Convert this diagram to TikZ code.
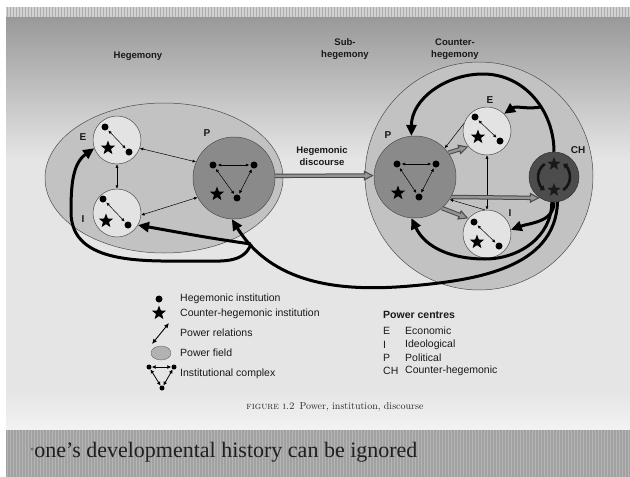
\documentclass[tikz,border=0pt]{standalone}
\usepackage{fontspec}
\newfontfamily\sansf{Liberation Sans}
\newfontfamily\timesf{Liberation Serif}
\usetikzlibrary{shapes.geometric, arrows.meta}
\tikzset{
  lbl/.style={font=\sansf\bfseries\fontsize{9.5}{11.5}\selectfont, align=center, text=black!90, inner sep=0pt},
  clbl/.style={font=\sansf\bfseries\fontsize{10}{12}\selectfont, text=black!90, inner sep=0pt},
  field/.style={draw=black!70, line width=0.5pt, inner sep=0pt},
  inst/.style={circle, draw=black!70, fill=black!11, minimum size=48pt, inner sep=0pt, line width=0.5pt},
  pol/.style={circle, draw=black!70, fill=black!46, minimum size=82pt, inner sep=0pt, line width=0.5pt},
  chc/.style={circle, draw=black!80, fill=black!70, minimum size=50pt, inner sep=0pt, line width=0.5pt},
  dot/.style={circle, fill=black, minimum size=7pt, inner sep=0pt},
  hstar/.style={star, star points=5, star point ratio=2.4, fill=black, minimum size=15pt, inner sep=0pt},
  rel/.style={{Latex[length=3.5pt,width=3pt]}-{Latex[length=3.5pt,width=3pt]}, line width=0.5pt, black},
  onerel/.style={-{Latex[length=3.5pt,width=3pt]}, line width=0.5pt, black},
  grayarr/.style={-{Triangle[length=10pt,width=9.5pt]}, line width=4.4pt, draw=black!72,
     postaction={draw=black!42, line width=2.4pt, shorten >=2.2pt, -{Triangle[length=6.5pt,width=5.6pt]}}},
  blackarr/.style={-{Triangle[length=11pt,width=10pt]}, line width=3pt, draw=black},
  legend/.style={font=\sansf\fontsize{10.5}{12}\selectfont, anchor=west, inner sep=0pt, text=black!90},
}
\begin{document}
\begin{tikzpicture}[x=1pt,y=1pt]
\useasboundingbox (0,0) rectangle (630,-477);
% background
\fill[white] (0,0) rectangle (630,-477);
\fill[black!18] (6,-7) rectangle (630,-17);
\foreach \x in {7,10,...,629} \draw[black!32, line width=0.8pt] (\x,-7) -- (\x,-17);
\shade[top color=black!40, bottom color=black!10] (6,-17) rectangle (630,-160);
\fill[black!10] (6,-160) rectangle (630,-390);
\shade[top color=black!10, bottom color=black!5] (6,-390) rectangle (630,-430);
\fill[black!37] (6,-430) rectangle (630,-477);
\foreach \x in {7,10,...,629} \draw[black!29, line width=0.6pt] (\x,-430) -- (\x,-477);

% headings
\node[lbl] (hHeg) at (138,-56) {Hegemony};
\node[lbl] (hSub) at (345,-49) {Sub-\\hegemony};
\node[lbl] (hCnt) at (455,-49) {Counter-\\hegemony};
\node[lbl] (hDis) at (322,-156) {Hegemonic\\discourse};

% left: hegemony
\node[ellipse, field, fill=black!24, minimum width=238pt, minimum height=150pt] (fieldL) at (164,-178) {};
\node[inst] (EL) at (117,-140) {};
\node[inst] (IL) at (117,-213) {};
\node[pol] (PL) at (234,-178) {};
\node[clbl] (lEL) at (83,-137) {E};
\node[clbl] (lIL) at (83,-219) {I};
\node[clbl] (lPL) at (207,-133) {P};

% right: sub-hegemony / counter-hegemony
\node[circle, field, fill=black!24, minimum size=228pt] (fieldR) at (479,-176) {};
\node[pol] (PR) at (415,-177) {};
\node[inst] (ER) at (487,-131) {};
\node[inst] (IR) at (487,-234) {};
\node[chc] (CH) at (554,-177) {};
\node[clbl] (lPR) at (388,-135) {P};
\node[clbl] (lER) at (490,-100) {E};
\node[clbl] (lIR) at (510,-213) {I};
\node[clbl] (lCH) at (578,-150) {CH};

% institutions inside left circles
\node[dot] (eL1) at (105,-127) {};
\node[dot] (eL2) at (129,-152) {};
\node[hstar] (eLs) at (108,-148) {};
\draw[rel, shorten <=1pt, shorten >=1pt] (eL1) -- (eL2);
\node[dot] (iL1) at (103,-199) {};
\node[dot] (iL2) at (128,-225) {};
\node[hstar] (iLs) at (106,-221) {};
\draw[rel, shorten <=1pt, shorten >=1pt] (iL1) -- (iL2);
\node[dot] (pL1) at (213,-165) {};
\node[dot] (pL2) at (254,-165) {};
\node[dot] (pL3) at (237,-198) {};
\node[hstar] (pLs) at (217,-194) {};
\draw[rel, shorten <=1pt, shorten >=1pt] (pL1) -- (pL2);
\draw[rel, shorten <=1pt, shorten >=1pt] (pL1) -- (pL3);
\draw[rel, shorten <=1pt, shorten >=1pt] (pL2) -- (pL3);

% institutions inside right circles
\node[dot] (pR1) at (397,-164) {};
\node[dot] (pR2) at (436,-164) {};
\node[dot] (pR3) at (419,-197) {};
\node[hstar] (pRs) at (398,-193) {};
\draw[rel, shorten <=1pt, shorten >=1pt] (pR1) -- (pR2);
\draw[rel, shorten <=1pt, shorten >=1pt] (pR1) -- (pR3);
\draw[rel, shorten <=1pt, shorten >=1pt] (pR2) -- (pR3);
\node[dot] (eR1) at (475,-117) {};
\node[dot] (eR2) at (500,-141) {};
\node[hstar] (eRs) at (478,-137) {};
\draw[rel, shorten <=1pt, shorten >=1pt] (eR1) -- (eR2);
\node[dot] (iR1) at (474,-222) {};
\node[dot] (iR2) at (499,-246) {};
\node[hstar] (iRs) at (477,-242) {};
\draw[rel, shorten <=1pt, shorten >=1pt] (iR1) -- (iR2);
% counter-hegemonic centre
\node[hstar, fill=black!90, minimum size=14pt] (chs1) at (554,-164) {};
\node[hstar, fill=black!90, minimum size=14pt] (chs2) at (554,-190) {};
\draw[black!92, line width=2.6pt, -{Triangle[length=4pt,width=6pt]}] ([shift={(125:16)}]CH.center) arc[start angle=125, end angle=235, radius=16];
\draw[black!92, line width=2.6pt, -{Triangle[length=4pt,width=6pt]}] ([shift={(-55:16)}]CH.center) arc[start angle=-55, end angle=55, radius=16];

% thin power relations between centres
\draw[rel] (EL.south) -- (IL.north);
\draw[rel] (EL.-20) -- (PL.157);
\draw[rel] (IL.-5) -- (PL.208);
\draw[rel] (ER.south) -- (IR.north);
\draw[onerel] (ER.162) -- (PR.44);
\draw[onerel] (IR.95) -- (PR.-33);

% grey arrows
\draw[grayarr] (PL.3) -- (PR.178);
\draw[grayarr] (PR.36) -- (ER.220);
\draw[grayarr] (PR.-49) -- (IR.140);
\draw[grayarr] (PR.-29) -- (CH.-124);

% thick black counter-hegemonic arrows
\coordinate (brE) at (541,-107);
\coordinate (brL) at (251,-244);
\draw[blackarr] (CH.north) to[out=90,in=0] (483,-74) to[out=180,in=90] (PR.95);
\draw[blackarr] (brE) to[out=190,in=35] (ER.45);
\draw[blackarr] (CH.-90) to[out=-90,in=20] (IR.10);
\draw[blackarr] (CH.-95) to[out=-90,in=0] (485,-259) to[out=180,in=-65] (PR.-95);
\draw[blackarr] (CH.-82) to[out=-92,in=5] (410,-286) to[out=185,in=-58] (PL.-93);
\draw[blackarr] (brL) to[out=172,in=-10] (IL.-30);
\draw[blackarr] (brL) to[out=-110,in=0] (200,-261) to[out=180,in=-90] (71,-212) to[out=90,in=215] (EL.200);

% legend
\node[dot] (lgDot) at (159,-299) {};
\node[legend] (lgT1) at (180,-299) {Hegemonic institution};
\node[hstar] (lgStar) at (159,-313) {};
\node[legend] (lgT2) at (180,-314) {Counter-hegemonic institution};
\coordinate (lgA1) at (152,-344);
\coordinate (lgA2) at (169,-323);
\draw[{Latex[length=5pt,width=4.5pt]}-{Latex[length=5pt,width=4.5pt]}, line width=0.9pt] (lgA1) -- (lgA2);
\node[legend] (lgT3) at (180,-333) {Power relations};
\node[ellipse, draw=black!60, fill=black!30, minimum width=20pt, minimum height=14pt, inner sep=0pt] (lgField) at (161,-353) {};
\node[legend] (lgT4) at (180,-353) {Power field};
\node[dot, minimum size=5pt] (lgC1) at (149,-367) {};
\node[dot, minimum size=5pt] (lgC2) at (174,-367) {};
\node[dot, minimum size=5pt] (lgC3) at (162,-388) {};
\draw[{Latex[length=4pt,width=4pt]}-{Latex[length=4pt,width=4pt]}, line width=0.8pt] (lgC1) -- (lgC2);
\draw[{Latex[length=4pt,width=4pt]}-{Latex[length=4pt,width=4pt]}, line width=0.8pt] (lgC1) -- (lgC3);
\draw[{Latex[length=4pt,width=4pt]}-{Latex[length=4pt,width=4pt]}, line width=0.8pt] (lgC2) -- (lgC3);
\node[legend] (lgT5) at (180,-374) {Institutional complex};

% power centres
\node[legend, font=\sansf\bfseries\fontsize{10.5}{12}\selectfont] (pcH) at (383,-315) {Power centres};
\node[legend] (pcE) at (383,-331) {E};
\node[legend] (pcEt) at (405,-331) {Economic};
\node[legend] (pcI) at (383,-345) {I};
\node[legend] (pcIt) at (405,-345) {Ideological};
\node[legend] (pcP) at (383,-358) {P};
\node[legend] (pcPt) at (405,-358) {Political};
\node[legend] (pcC) at (383,-371) {CH};
\node[legend] (pcCt) at (405,-371) {Counter-hegemonic};

% caption
\node[font=\fontsize{10}{12}\selectfont, text=black!85] (cap) at (335,-407) {\textsc{figure i.2}\enspace Power, institution, discourse};

% slide text
\node[anchor=west, inner sep=0pt, font=\timesf\fontsize{22}{26}\selectfont, text=black!88] (slide) at (30,-452) {\textcolor{black!55}{\raisebox{0.35ex}{\fontsize{12}{12}\selectfont •}}one’s developmental history can be ignored};
\end{tikzpicture}
\end{document}
